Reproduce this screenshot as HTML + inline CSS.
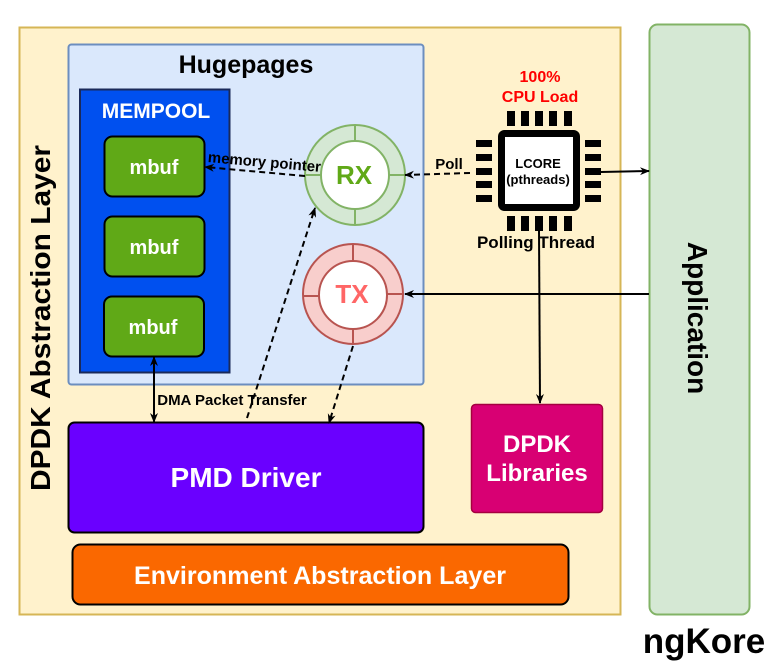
<!DOCTYPE html>
<html><head><meta charset="utf-8"><style>
html,body{margin:0;padding:0;background:#fff;}
svg{display:block;font-family:"Liberation Sans",Arial,sans-serif;font-weight:bold;}
</style></head><body>
<svg width="772" height="665" viewBox="0 0 772 665" xmlns="http://www.w3.org/2000/svg">
<defs>
<marker id="ah" markerWidth="10" markerHeight="10" refX="9" refY="5" orient="auto" markerUnits="userSpaceOnUse"><path d="M0,1 L10,5 L0,9 L3,5 Z" fill="#000"/></marker>
<marker id="ahs" markerWidth="10" markerHeight="10" refX="1" refY="5" orient="auto" markerUnits="userSpaceOnUse"><path d="M10,1 L0,5 L10,9 L7,5 Z" fill="#000"/></marker>
</defs>
<rect x="19.5" y="27.5" width="601" height="587" fill="#fff2cc" stroke="#d6b656" stroke-width="2"/>
<rect x="649.5" y="24.5" width="100" height="590" rx="8" fill="#d5e8d4" stroke="#82b366" stroke-width="2"/>
<text transform="translate(688,318) rotate(90)" text-anchor="middle" font-size="28" fill="#000">Application</text>
<text transform="translate(50,318) rotate(-90)" text-anchor="middle" font-size="28" fill="#000" textLength="346" lengthAdjust="spacingAndGlyphs">DPDK Abstraction Layer</text>
<rect x="68.5" y="44.5" width="355" height="340" rx="3" fill="#dae8fc" stroke="#6c8ebf" stroke-width="2"/>
<text x="246" y="73" text-anchor="middle" font-size="25">Hugepages</text>
<rect x="80" y="89.5" width="149.5" height="283" fill="#0050ef" stroke="#1a2a5a" stroke-width="2"/>
<text x="156" y="118" text-anchor="middle" font-size="21" fill="#fff">MEMPOOL</text>
<g fill="#60a917" stroke="#000" stroke-width="2">
<rect x="104.5" y="136.5" width="100" height="60" rx="8"/>
<rect x="104.5" y="216.5" width="100" height="60" rx="8"/>
<rect x="104" y="296.5" width="100" height="60" rx="8"/>
</g>
<g fill="#fff" font-size="20" text-anchor="middle">
<text x="154" y="174">mbuf</text><text x="154" y="254">mbuf</text><text x="153" y="334">mbuf</text>
</g>
<circle cx="355" cy="175" r="50" fill="#d5e8d4" stroke="#82b366" stroke-width="2"/>
<circle cx="355" cy="175" r="34" fill="#fff" stroke="#82b366" stroke-width="2"/>
<g stroke="#82b366" stroke-width="2"><line x1="355" y1="125" x2="355" y2="141"/><line x1="355" y1="209" x2="355" y2="225"/><line x1="305" y1="175" x2="321" y2="175"/><line x1="389" y1="175" x2="405" y2="175"/></g>
<text x="354" y="184" text-anchor="middle" font-size="26" fill="#60a917">RX</text>
<circle cx="353" cy="294" r="50" fill="#f8cecc" stroke="#b85450" stroke-width="2"/>
<circle cx="353" cy="295" r="34" fill="#fff" stroke="#b85450" stroke-width="2"/>
<g stroke="#b85450" stroke-width="2"><line x1="353" y1="244" x2="353" y2="261"/><line x1="353" y1="329" x2="353" y2="344"/><line x1="303" y1="296" x2="319" y2="296"/><line x1="387" y1="294" x2="403" y2="294"/></g>
<text x="352" y="303" text-anchor="middle" font-size="26" fill="#ff6666">TX</text>
<text x="540" y="82" text-anchor="middle" font-size="16" fill="#ff0000">100%</text>
<text x="540" y="102" text-anchor="middle" font-size="16" fill="#ff0000">CPU Load</text>
<g fill="#000">
<rect x="507" y="111" width="8" height="15"/><rect x="521" y="111" width="8" height="15"/><rect x="535" y="111" width="8" height="15"/><rect x="549" y="111" width="8" height="15"/><rect x="564" y="111" width="8" height="15"/>
<rect x="507" y="216" width="8" height="15"/><rect x="521" y="216" width="8" height="15"/><rect x="535" y="216" width="8" height="15"/><rect x="549" y="216" width="8" height="15"/><rect x="564" y="216" width="8" height="15"/>
<rect x="476" y="140" width="16" height="7"/><rect x="476" y="154" width="16" height="7"/><rect x="476" y="168" width="16" height="7"/><rect x="476" y="181" width="16" height="7"/><rect x="476" y="195" width="16" height="7"/>
<rect x="585" y="140" width="16" height="7"/><rect x="585" y="154" width="16" height="7"/><rect x="585" y="168" width="16" height="7"/><rect x="585" y="181" width="16" height="7"/><rect x="585" y="195" width="16" height="7"/>
</g>
<rect x="501.5" y="133.5" width="75" height="74" rx="3" fill="#fff" stroke="#000" stroke-width="7"/>
<text x="538" y="168" text-anchor="middle" font-size="13">LCORE</text>
<text x="538" y="184" text-anchor="middle" font-size="13">(pthreads)</text>
<text x="536" y="248" text-anchor="middle" font-size="17">Polling Thread</text>
<rect x="68.5" y="422.5" width="355" height="110" rx="6" fill="#6a00ff" stroke="#000" stroke-width="2"/>
<text x="246" y="487" text-anchor="middle" font-size="28" fill="#fff">PMD Driver</text>
<rect x="471.5" y="404.5" width="131" height="108" rx="4" fill="#d80073" stroke="#a50040" stroke-width="1.5"/>
<text x="537" y="452" text-anchor="middle" font-size="24" fill="#fff">DPDK</text>
<text x="537" y="481" text-anchor="middle" font-size="24" fill="#fff">Libraries</text>
<rect x="72.5" y="544.5" width="496" height="60" rx="8" fill="#fa6800" stroke="#000" stroke-width="2"/>
<text x="320" y="584" text-anchor="middle" font-size="25" fill="#fff" textLength="372" lengthAdjust="spacingAndGlyphs">Environment Abstraction Layer</text>
<text x="704" y="653" text-anchor="middle" font-size="35">ngKore</text>
<g stroke="#000" stroke-width="2" fill="none">
<line x1="601" y1="172" x2="649" y2="171" marker-end="url(#ah)"/>
<line x1="649" y1="294" x2="405" y2="294" marker-end="url(#ah)"/>
<line x1="539" y1="231" x2="540" y2="403" marker-end="url(#ah)"/>
<line x1="154" y1="357" x2="154" y2="422" marker-start="url(#ahs)" marker-end="url(#ah)"/>
<line x1="470" y1="173" x2="405" y2="175" stroke-dasharray="6,4" marker-end="url(#ah)"/>
<line x1="305" y1="176" x2="205" y2="167" stroke-dasharray="6,4" marker-end="url(#ah)"/>
<line x1="247" y1="418" x2="315" y2="208" stroke-dasharray="6,4" marker-end="url(#ah)"/>
<line x1="353" y1="346" x2="329" y2="423" stroke-dasharray="6,4" marker-end="url(#ah)"/>
</g>
<text x="449" y="169" text-anchor="middle" font-size="15">Poll</text>
<text x="264" y="167" text-anchor="middle" font-size="15" transform="rotate(5 264 167)">memory pointer</text>
<text x="232" y="405" text-anchor="middle" font-size="15">DMA Packet Transfer</text>
</svg>
</body></html>
